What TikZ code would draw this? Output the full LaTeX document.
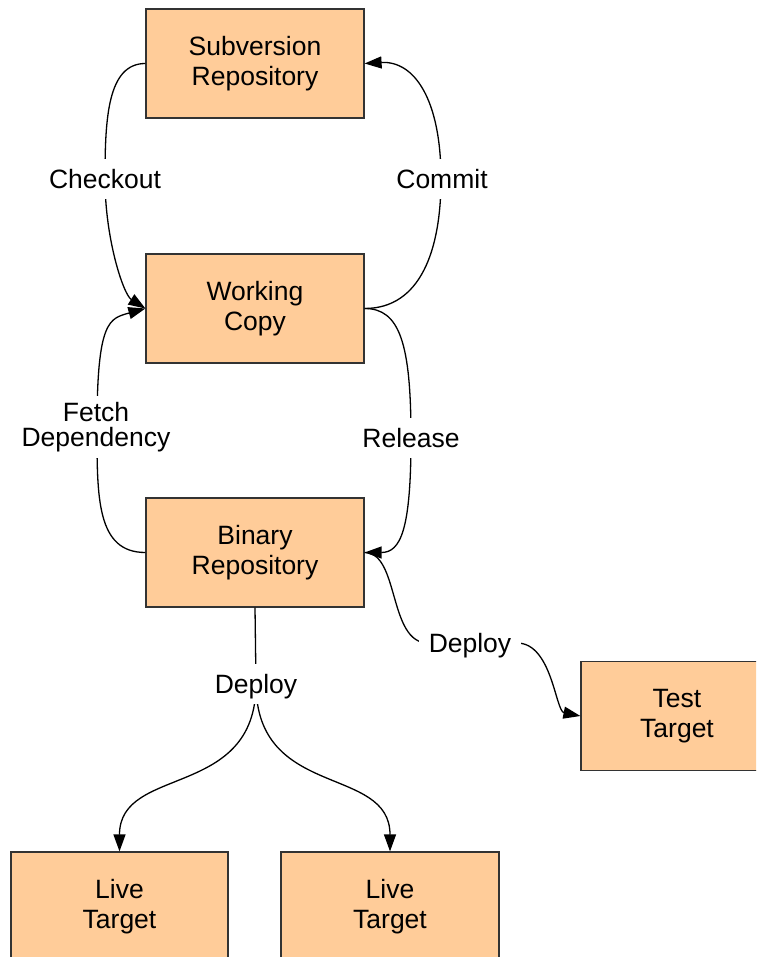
\documentclass[tikz,border=0pt]{standalone}
\usepackage{fontspec}
\setmainfont{Liberation Sans}
\usetikzlibrary{arrows.meta}
\definecolor{boxfill}{RGB}{255,204,153}
\definecolor{boxline}{RGB}{51,51,51}
\begin{document}
\begin{tikzpicture}[x=1pt,y=-1pt,
  stage/.style={draw=boxline, line width=1.2pt, fill=boxfill,
    minimum width=218pt, minimum height=109pt, inner sep=0pt, align=center,
    font=\fontsize{26.5}{29.5}\selectfont,
    execute at begin node={\rule{0pt}{25.3pt}}},
  conn/.style={line width=1.3pt, black},
  arr/.style={conn, -{Triangle[length=17pt,width=12pt]}},
  lbl/.style={fill=white, inner xsep=10pt, inner ysep=4pt,
    text height=25pt, text depth=6.6pt,
    font=\fontsize{26.5}{29.5}\selectfont},
  lbltwo/.style={fill=white, inner sep=6pt, align=center,
    font=\fontsize{26.5}{24.5}\selectfont}]

\useasboundingbox (0,0) rectangle (756,957);
\clip (0,0) rectangle (756,957);

% stages of the release pipeline
\node[stage] (sub) at (255,63.5) {Subversion\\Repository};
\node[stage] (wc)  at (255,308.5) {Working\\Copy};
\node[stage] (bin) at (255,552.5) {Binary\\Repository};
\node[stage, minimum width=192pt] (test) at (677,716) {Test\\Target};
\node[stage, minimum width=217pt] (lt1) at (119.5,906.5) {Live\\Target};
\node[stage] (lt2) at (390,906.5) {Live\\Target};

% label positions on the connectors
\coordinate (ck) at (105,179);
\coordinate (cm) at (441,179);
\coordinate (rl) at (411,438);
\coordinate (fd) at (97,427);
\coordinate (dtw) at (428,643);
\coordinate (dte) at (517,643);
\coordinate (dl) at (256,684);

% connectors
\draw[arr] (sub.west) .. controls +(-38,0) and +(0,-60) .. (ck)
           .. controls +(0,60) and +(-22,-14) .. (wc.west);
\draw[arr] (wc.east) .. controls +(56,0) and +(0,71) .. (cm)
           .. controls +(0,-79) and +(50,-3) .. (sub.east);
\draw[arr] (wc.east) .. controls +(35,0) and +(0,-95) .. (rl)
           .. controls +(0,92) and +(36,0) .. (bin.east);
\draw[arr] (bin.west) .. controls +(-49,0) and +(0,70) .. (fd)
           .. controls +(0,-107) and +(-36,10) .. (wc.west);
\draw[arr] (bin.east) .. controls +(35,0) and +(-40,0) .. (dtw) -- (dte)
           .. controls +(35,0) and +(-25,-5) .. (test.west);
\draw[conn] (bin.south) -- (dl);
\draw[arr] (dl) .. controls +(0,116) and +(0,-87) .. (lt1.north);
\draw[arr] (dl) .. controls +(0,116) and +(0,-87) .. (lt2.north);

% connector labels
\node[lbl] at (ck) {Checkout};
\node[lbl] at (442,179) {Commit};
\node[lbl] at (rl) {Release};
\node[lbltwo] at (96,427) {Fetch\\Dependency};
\node[lbl] at (470,643) {Deploy};
\node[lbl] at (dl) {Deploy};
\end{tikzpicture}
\end{document}
